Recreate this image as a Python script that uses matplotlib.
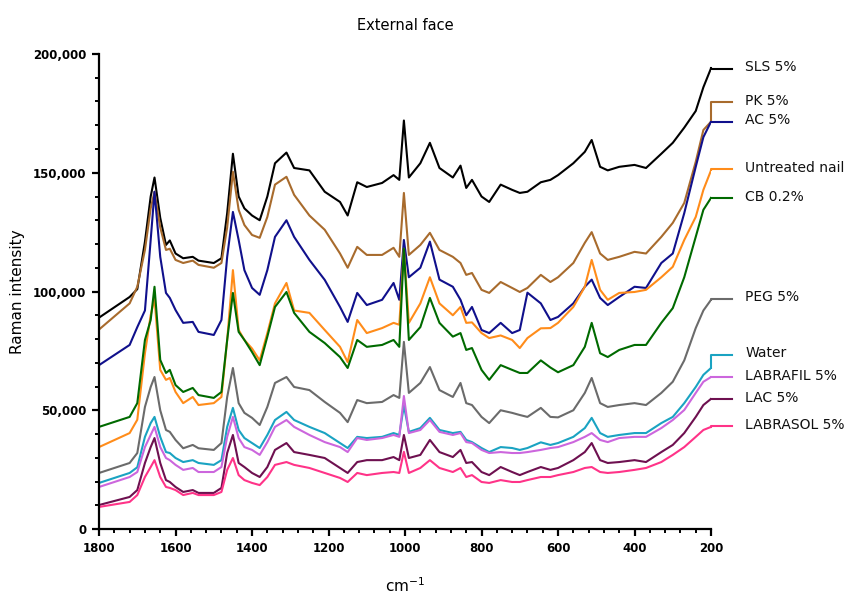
import matplotlib
matplotlib.use("Agg")
import matplotlib.pyplot as plt
from matplotlib.ticker import MultipleLocator, FuncFormatter

wavenumber = [1800, 1720, 1700, 1680, 1665, 1655, 1640, 1625, 1615, 1600, 1580, 1555, 1540,
              1500, 1480, 1465, 1450, 1435, 1420, 1400, 1380, 1360, 1340, 1310, 1290, 1250,
              1210, 1170, 1150, 1125, 1100, 1060, 1030, 1015, 1003, 990, 960, 935, 910, 875,
              855, 840, 825, 800, 780, 750, 720, 700, 680, 645, 620, 600, 560, 530, 512, 490,
              470, 440, 400, 370, 330, 300, 270, 240, 220, 200]

# Raman intensity, in thousands of counts
sls = [89, 97.7, 101, 121, 140, 148, 131, 119.6, 121.5, 116, 114, 114.6, 113,
       112, 114, 133, 158, 140, 135, 132, 130, 140, 154, 158.5, 152, 151,
       142, 137.7, 132, 146, 144, 145.7, 149, 147, 172, 148, 154, 162.6, 152, 148,
       153, 143.6, 147, 140, 137.7, 145, 142.8, 141.5, 142, 146, 147, 149, 154, 158.8, 163.8, 152.5,
       151, 152.5, 153.3, 152, 158, 162.6, 169, 176, 186, 194]
pk = [84, 95, 102, 117.5, 135, 142, 127, 117.5, 118, 113.3, 112, 113, 111.2,
      110, 112, 127, 150.4, 134.4, 128, 123.8, 122.6, 131.4, 145, 148.3, 140.7, 132,
      126, 116, 110, 118.8, 115.4, 115.4, 118.4, 114.6, 141.5, 115.4, 119.6, 124.7, 117.5, 114.6,
      112, 107, 107.8, 100.7, 99.4, 104, 101.5, 99.8, 101.5, 107, 104, 106, 112, 120.5, 125, 116,
      113.3, 114.6, 116.7, 116, 123, 128.9, 137.3, 154.6, 168, 171.5]
ac = [69, 77.5, 85, 92, 121.7, 142, 114.6, 99.4, 97.3, 92.2, 86.8, 87.2, 83,
      81.7, 88, 114.6, 133.5, 121.7, 109, 101.5, 98.6, 109, 123, 130, 123, 113.3,
      104.9, 93.5, 87.2, 99.4, 94.3, 96.5, 103.6, 96.5, 121.7, 106, 110, 121, 105, 102,
      96.5, 90, 93.5, 83.8, 82.5, 86.8, 82.5, 83.8, 99.5, 95, 88, 89.3, 95, 102, 105, 97.3,
      94.3, 97.7, 102, 101.5, 112, 116, 133, 152.5, 165, 171.5]
untreated = [34.5, 40.4, 46, 74, 90, 97, 67, 62.8, 63.6, 57.7, 53, 55.6, 52.2,
             53, 55.6, 79.6, 109, 83.8, 79.6, 76, 71, 82.5, 95, 103.6, 92, 91,
             83.8, 76.7, 70.3, 88, 82.5, 84.6, 86.8, 86, 118, 86.8, 95, 106, 95, 90,
             93.5, 86.8, 87, 82.5, 80.4, 81.5, 79.6, 76.2, 80.4, 84.5, 84.6, 86.8, 93.5, 102, 113.3, 100.7,
             96.5, 99.4, 99.8, 100.7, 106, 110.4, 121.7, 131.4, 142.8, 151]
cb = [43, 47.2, 53, 79.6, 88, 102, 71.2, 65.7, 67, 60.6, 57.7, 59.4, 56.4,
      55.2, 57.7, 79.6, 99.4, 83, 79.6, 74.5, 69, 81, 93.5, 99.8, 91, 83,
      78.3, 72.4, 67.8, 79.6, 76.7, 77.5, 79.6, 76.7, 118, 79.6, 85, 97.3, 86.8, 81,
      82.5, 75.4, 76.2, 67, 62.8, 69, 67, 65.7, 65.7, 71, 68, 66, 69, 76.7, 86.8, 74,
      72.4, 75.4, 77.5, 77.5, 86.8, 93, 106, 123, 134.4, 139.4]
peg = [23.6, 27.8, 32, 51.4, 59.8, 64, 50, 41.7, 40.9, 37.5, 34, 35.4, 34,
       33.3, 36.2, 55.6, 67.8, 53, 48.9, 46.8, 43.8, 51.4, 61.5, 64, 59.8, 58.5,
       53.5, 48.9, 45, 54.3, 53, 53.5, 56.4, 55.2, 78.8, 57.3, 61.5, 68.2, 58.5, 55.6,
       61.5, 53, 52.2, 47.2, 44.6, 50, 48.9, 48, 47.2, 51, 47.2, 47, 50, 57.3, 63.6, 53,
       51.4, 52.2, 53, 52.2, 57.3, 62, 71, 84.6, 92, 96.5]
water = [19.4, 23.6, 26, 38.8, 44.6, 47.2, 38.8, 32.4, 32, 29.9, 28.2, 29, 27.8,
         27, 29, 43, 51, 41.7, 38.3, 36.2, 34.1, 39.6, 45.9, 49.3, 45.9, 43,
         40.4, 36.2, 34.1, 38.8, 38.3, 38.8, 40.4, 39.6, 52, 40.9, 42.5, 46.8, 41.7, 40.4,
         40.9, 37.5, 36.6, 34.1, 32.4, 34.5, 34.1, 33.3, 34.1, 36.5, 35.4, 36.2, 38.8, 42.5, 46.8, 40.4,
         38.8, 39.6, 40.4, 40.4, 44.6, 47.2, 53, 59.8, 64.9, 67.8]
labrafil = [17.7, 21.9, 24, 34.5, 39.6, 43, 34.5, 29.9, 29, 27, 24.9, 25.7, 24,
            24, 26.1, 38.8, 47.2, 38.3, 34.5, 33.3, 31.2, 36.6, 43, 45.9, 43, 39.6,
            36.6, 34.5, 32.4, 38.3, 37.5, 38.3, 39.6, 38.8, 56, 40.4, 41.7, 45.9, 40.9, 39.6,
            40.4, 36.6, 36.2, 33.3, 32, 32.4, 32, 32, 32.4, 33.3, 34.1, 34.5, 36.6, 38.8, 40.4, 37.5,
            36.6, 38.3, 38.8, 38.8, 42.5, 45.9, 50.1, 57.3, 62, 64]
lac = [10.1, 13.5, 16.4, 27.8, 34.5, 38.3, 27.8, 20.6, 19.8, 17.7, 15.6, 16.4, 15.2,
       15.2, 17.3, 32, 39.6, 27.8, 26.1, 23.6, 21.9, 26.1, 33.3, 36.2, 32.4, 31.2,
       29.9, 25.7, 23.6, 28.2, 29, 29, 30.3, 29, 39.6, 29.9, 31.2, 37.5, 32.4, 30.3,
       33.3, 27.8, 28.2, 24, 22.7, 26.1, 24, 22.7, 24, 26.1, 24.9, 25.7, 29, 32.4, 36.2, 29,
       27.8, 28.2, 29, 28.2, 32.4, 35.4, 40.4, 47.2, 52.2, 54.8]
labrasol = [9.3, 11.4, 14.3, 21.9, 26.1, 29, 21.9, 17.7, 17.3, 16.4, 14.3, 15.2, 14.3,
            14.3, 15.6, 24.9, 29.9, 22.7, 20.6, 19.4, 18.5, 21.9, 27, 28.2, 27, 25.7,
            23.6, 21.5, 19.8, 23.6, 22.7, 23.6, 24, 23.6, 32.5, 23.6, 25.7, 29, 25.7, 24,
            25.7, 21.9, 22.7, 19.8, 19.4, 20.6, 19.8, 19.8, 20.6, 21.9, 21.9, 22.7, 24, 25.7, 26.1, 24,
            23.6, 24, 24.9, 25.7, 28.2, 31.2, 34.5, 38.8, 41.7, 43]

labels = ["SLS 5%", "PK 5%", "AC 5%", "Untreated nail", "CB 0.2%", "PEG 5%",
          "Water", "LABRAFIL 5%", "LAC 5%", "LABRASOL 5%"]
series = [sls, pk, ac, untreated, cb, peg, water, labrafil, lac, labrasol]
colors = ["#000000", "#A86B2D", "#10108C", "#FF8C1A", "#006A00", "#6B6B6B",
          "#1AA3C2", "#CC66DD", "#6E1050", "#FF3388"]
# legend sample heights (thousands) next to the curve ends
legend_level = [193.8, 179.8, 171.4, 151.4, 139.4, 96.9, 73.3, 63.9, 54.7, 43.4]

fig = plt.figure(figsize=(8.65, 5.94), dpi=100)
ax = fig.add_axes([0.1145, 0.1094, 0.7075, 0.7997])

for ys, c in zip(series, colors):
    ax.plot(wavenumber, ys, color=c, lw=1.5, solid_joinstyle="round")

ax.set_xlim(1800, 200)
ax.set_ylim(0, 200)

for ys, c, lab, lv in zip(series, colors, labels, legend_level):
    ax.plot([200, 200, 146], [ys[-1], lv, lv], color=c, lw=1.5, clip_on=False)
    ax.text(110, lv + 0.6, lab, color="#111111", fontsize=10, va="center", ha="left",
            clip_on=False)

for s in ["top", "right"]:
    ax.spines[s].set_visible(False)
for s in ["left", "bottom"]:
    ax.spines[s].set_linewidth(1.6)

ax.xaxis.set_major_locator(MultipleLocator(200))
ax.xaxis.set_minor_locator(MultipleLocator(40))
ax.yaxis.set_major_locator(MultipleLocator(50))
ax.yaxis.set_minor_locator(MultipleLocator(10))
ax.yaxis.set_major_formatter(FuncFormatter(lambda v, p: f"{int(round(v * 1000)):,}"))

ax.tick_params(which="major", length=5, width=1.6, direction="out", labelsize=8.5, pad=4)
ax.tick_params(which="minor", length=3, width=1.4, direction="out")
for t in ax.get_xticklabels() + ax.get_yticklabels():
    t.set_fontweight("bold")

ax.set_title("External face", fontsize=10.5, pad=17)
ax.set_ylabel("Raman intensity", fontsize=11, labelpad=6)
ax.set_xlabel("cm$^{-1}$", fontsize=11, labelpad=16)

fig.savefig("out.png", dpi=100)
